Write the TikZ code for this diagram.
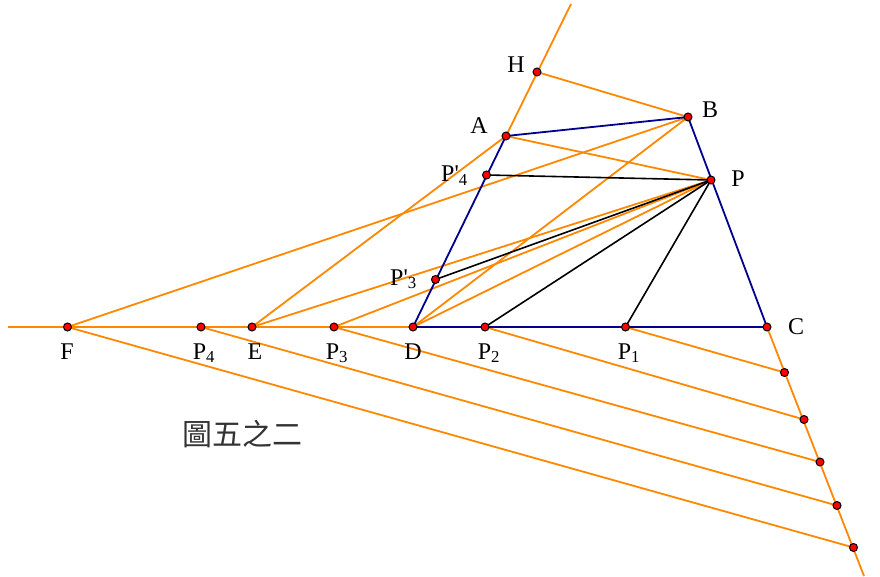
\documentclass[tikz,border=0pt]{standalone}
\usepackage{fontspec}
\newfontfamily\lblfont{Liberation Serif}
\newfontfamily\cjkfont{Noto Sans CJK TC}
\usepackage{xcolor}
\usepackage{tikz}
\usetikzlibrary{positioning,calc}
\definecolor{geoorange}{RGB}{255,136,0}
\definecolor{geoblue}{RGB}{0,0,140}
\begin{document}
\begin{tikzpicture}[x=1pt,y=-1pt,
  dot/.style={circle, draw=black, fill=red, line width=1pt, inner sep=0pt, minimum size=8pt},
  lbl/.style={font=\fontsize{24}{28}\lblfont, inner sep=0pt, anchor=base},
  aux/.style={geoorange, line width=1.8pt},
  side/.style={geoblue, line width=1.8pt},
  seg/.style={black, line width=1.6pt}]
\useasboundingbox (0,0) rectangle (880,577);
% points
\coordinate (H) at (537,72);
\coordinate (B) at (688,117);
\coordinate (A) at (506,136);
\coordinate (P) at (711,180);
\coordinate (P4') at (486.5,175);
\coordinate (P3') at (435.5,279.5);
\coordinate (C) at (767,327);
\coordinate (D) at (413,327);
\coordinate (P2) at (485,327);
\coordinate (P1) at (625.5,327);
\coordinate (P3) at (334,327);
\coordinate (E) at (252,327);
\coordinate (P4) at (201,327);
\coordinate (F) at (67.5,327);
\coordinate (Q1) at (784.5,372.5);
\coordinate (Q2) at (804,419.5);
\coordinate (Q3) at (820,462);
\coordinate (Q4) at (837,505.5);
\coordinate (Q5) at (853.5,547.5);
% free ends
\coordinate (top) at (571,4);
\coordinate (left) at (8,327);
\coordinate (bot) at (864,576);

% construction lines
\draw[aux] (left) -- (D);
\draw[aux] (A) -- (top);
\draw[aux] (H) -- (B);
\draw[aux] (A) -- (P);
\draw[aux] (F) -- (B);
\draw[aux] (E) -- (A);
\draw[aux] (E) -- (P);
\draw[aux] (P3) -- (P);
\draw[aux] (D) -- (B);
\draw[aux] (D) -- (P);
\draw[aux] (C) -- (bot);
\draw[aux] (P1) -- (Q1);
\draw[aux] (P2) -- (Q2);
\draw[aux] (P3) -- (Q3);
\draw[aux] (P4) -- (Q4);
\draw[aux] (F) -- (Q5);
% trapezoid
\draw[side] (A) -- (B) -- (C) -- (D) -- cycle;
% segments from P
\draw[seg] (P) -- (P4');
\draw[seg] (P) -- (P3');
\draw[seg] (P) -- (P2);
\draw[seg] (P) -- (P1);

% dots
\foreach \p in {H,B,A,P,P4',P3',C,D,P2,P1,P3,E,P4,F,Q1,Q2,Q3,Q4,Q5}
  \node[dot] (d\p) at (\p) {};

% labels
\node[lbl] (hl) at (516,73) {H};
\node[lbl] (bl) at (710,118) {B};
\node[lbl] (al) at (479,134) {A};
\node[lbl, anchor=base east] (p4'l) at (468,182) {P'\textsubscript{4}};
\node[lbl] (pl) at (738,187) {P};
\node[lbl, anchor=base east] (p3'l) at (417,285) {P'\textsubscript{3}};
\node[lbl] (cl) at (796,334) {C};
\node[lbl] (dl) at (413,359) {D};
\node[lbl] (p2l) at (489,359) {P\textsubscript{2}};
\node[lbl] (p1l) at (629,359) {P\textsubscript{1}};
\node[lbl] (p3l) at (337,359) {P\textsubscript{3}};
\node[lbl] (el) at (255,359) {E};
\node[lbl] (p4l) at (204,359) {P\textsubscript{4}};
\node[lbl] (fl) at (67,359) {F};

\node[font=\fontsize{30}{34}\cjkfont, text=black!80] (title) at (242,434) {圖五之二};
\end{tikzpicture}
\end{document}
